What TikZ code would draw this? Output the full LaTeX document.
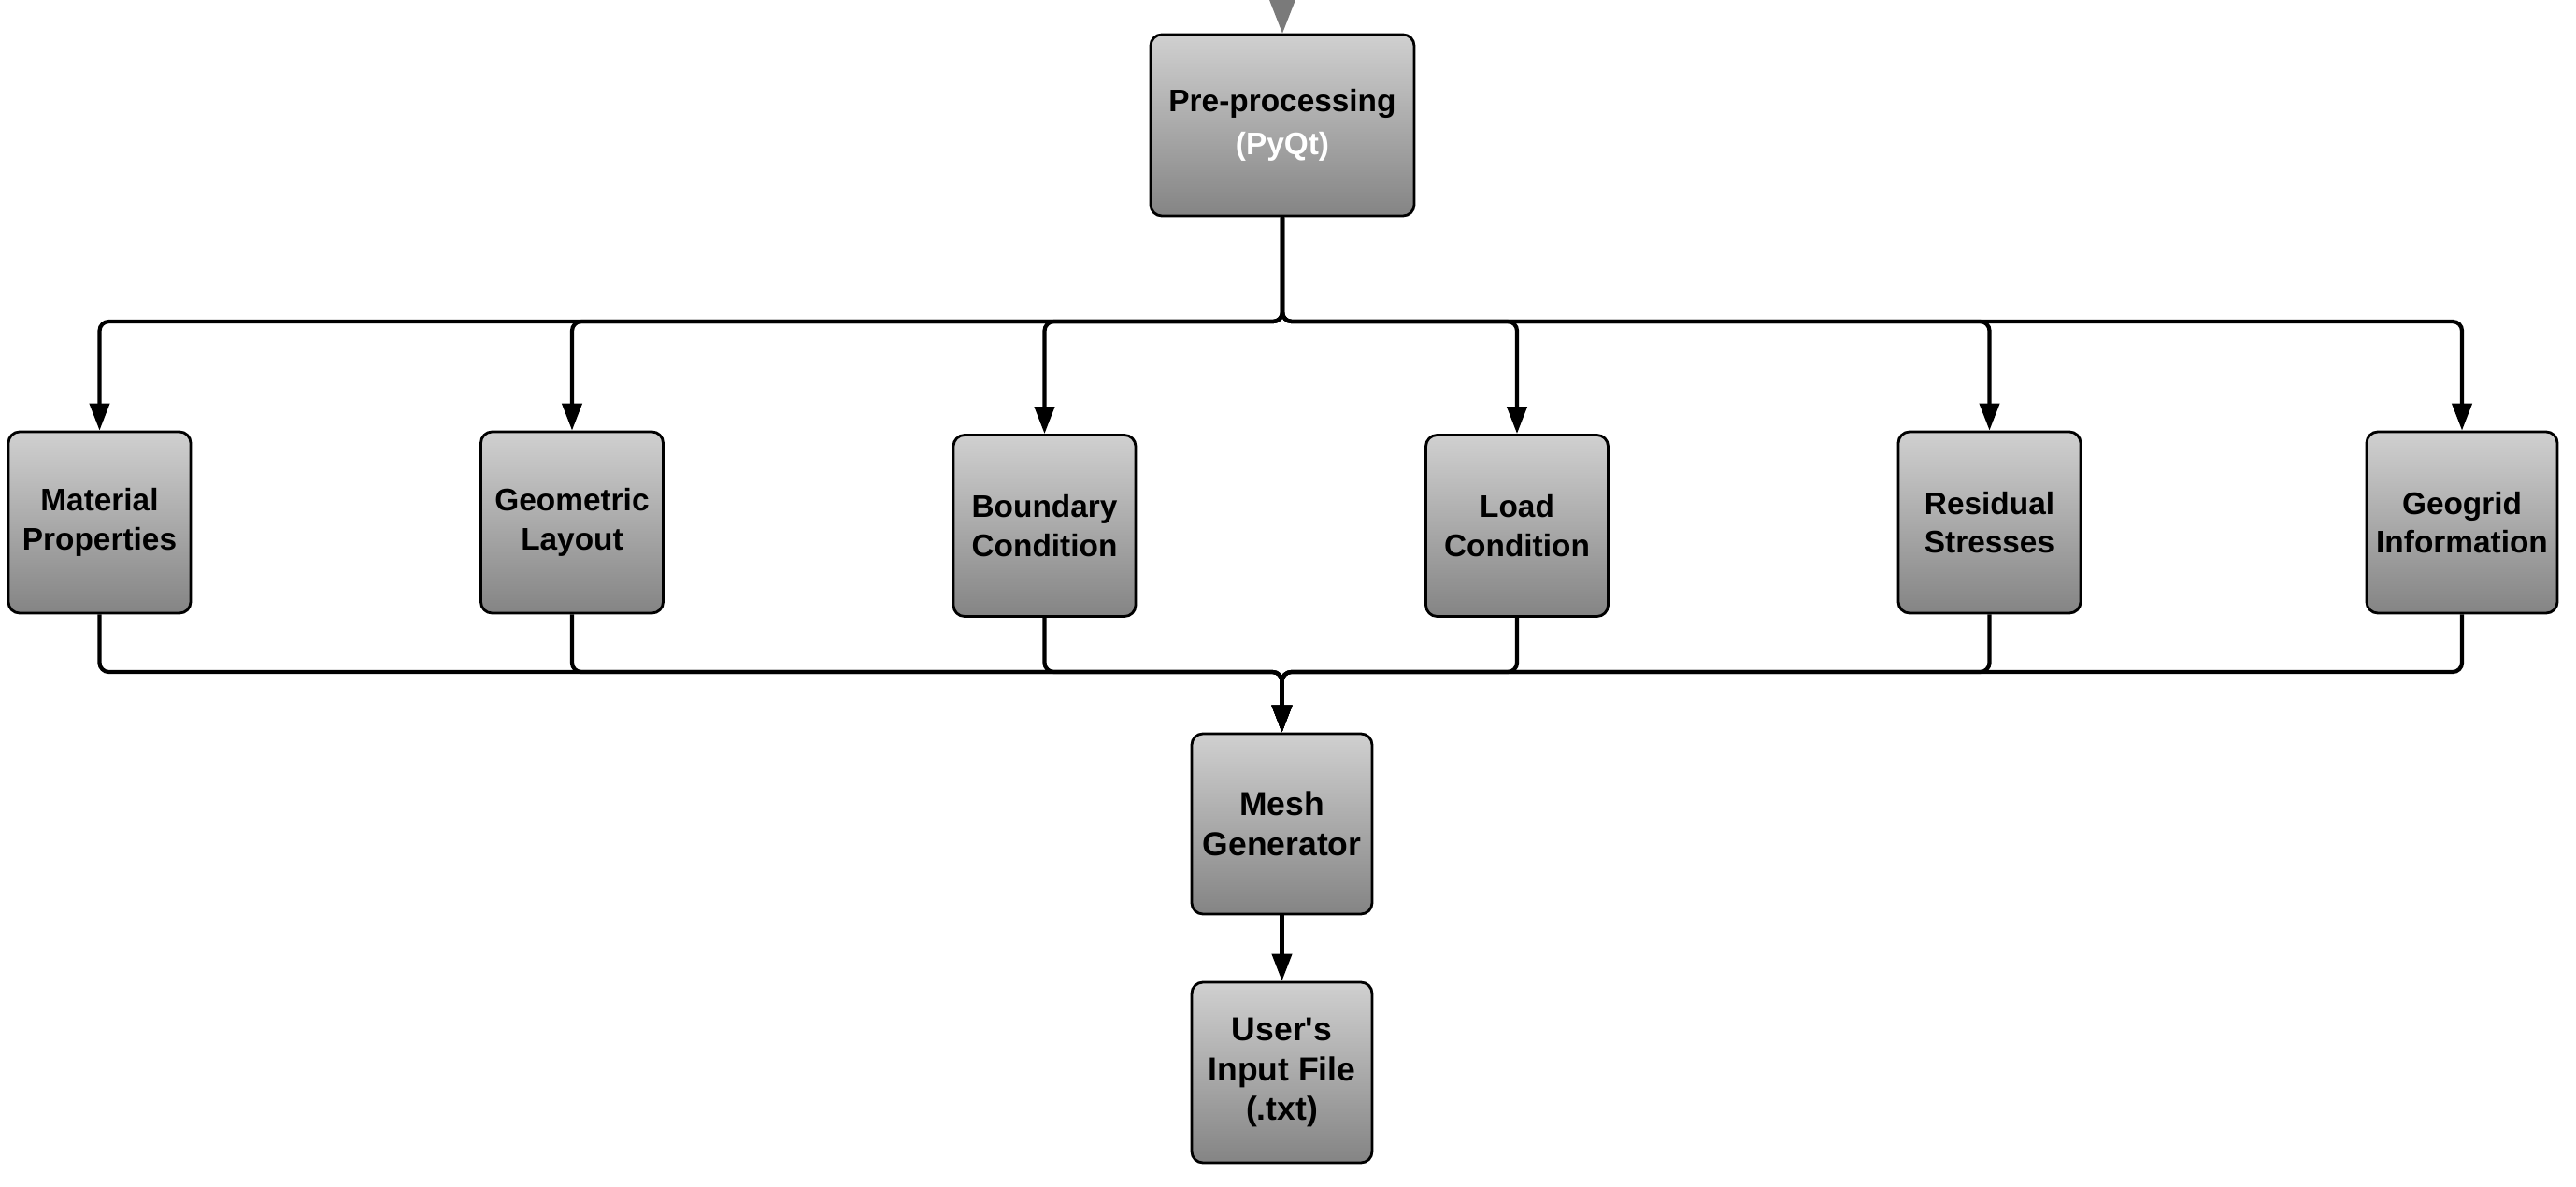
\documentclass[tikz,border=0pt]{standalone}
\usepackage{fontspec}
\setmainfont{Liberation Sans}
\usepackage{xcolor}
\usepackage{tikz}
\usetikzlibrary{arrows.meta, shapes.misc}

\definecolor{boxtop}{HTML}{D0D0D0}
\definecolor{boxbot}{HTML}{848484}
\definecolor{inarrow}{HTML}{7A7A7A}

\begin{document}
\begin{tikzpicture}[
    blk/.style={rectangle, rounded corners=1.2mm, draw=black, line width=0.8pt,
        top color=boxtop, bottom color=boxbot, inner sep=0pt, align=center,
        minimum width=1.95cm, minimum height=1.94cm,
        font=\bfseries\fontsize{9.5}{11.9}\selectfont},
    bigblk/.style={blk, font=\bfseries\fontsize{10.1}{12.2}\selectfont},
    link/.style={line width=1.2pt, rounded corners=1mm,
        -{Triangle[length=2.9mm, width=2.1mm]}}
]
    % 画布范围
    \useasboundingbox (0,0) rectangle (27.56,-12.70);

    % 前处理模块
    \node[blk, minimum width=2.82cm, font=\bfseries\fontsize{9.5}{13.2}\selectfont]
        (pre) at (13.72,-1.34) {Pre-processing\\\textcolor{white}{(PyQt)}};

    % 顶部灰色箭头(来自上方)
    \fill[inarrow] (pre.north) -- ++(-0.145,0.37) -- ++(0.29,0) -- cycle;

    % 输入参数模块
    \node[blk] (mat)  at (1.065,-5.59)  {Material\\Properties};
    \node[blk] (geo)  at (6.12,-5.59)   {Geometric\\Layout};
    \node[blk] (bnd)  at (11.175,-5.625) {Boundary\\Condition};
    \node[blk] (load) at (16.23,-5.625) {Load\\Condition};
    \node[blk] (res)  at (21.285,-5.59) {Residual\\Stresses};
    \node[blk, minimum width=2.04cm] (geog) at (26.34,-5.59) {Geogrid\\Information};

    % 网格生成与输出文件
    \node[bigblk, minimum width=1.93cm, minimum height=1.93cm]
        (mesh) at (13.715,-8.815) {Mesh\\Generator};
    \node[bigblk, minimum width=1.93cm, minimum height=1.93cm]
        (usr) at (13.715,-11.475) {User\textquotesingle s\\Input File\\(.txt)};

    % 分支点
    \coordinate (jt) at (pre.south |- 0,-3.44);
    \coordinate (jb) at (mesh.north |- 0,-7.19);

    % 前处理 -> 各模块
    \draw[link] (pre.south) -- (jt) -| (mat.north);
    \draw[link] (pre.south) -- (jt) -| (geo.north);
    \draw[link] (pre.south) -- (jt) -| (bnd.north);
    \draw[link] (pre.south) -- (jt) -| (load.north);
    \draw[link] (pre.south) -- (jt) -| (res.north);
    \draw[link] (pre.south) -- (jt) -| (geog.north);

    % 各模块 -> 网格生成
    \draw[link] (mat.south)  |- (jb) -- (mesh.north);
    \draw[link] (geo.south)  |- (jb) -- (mesh.north);
    \draw[link] (bnd.south)  |- (jb) -- (mesh.north);
    \draw[link] (load.south) |- (jb) -- (mesh.north);
    \draw[link] (res.south)  |- (jb) -- (mesh.north);
    \draw[link] (geog.south) |- (jb) -- (mesh.north);

    % 网格生成 -> 输入文件
    \draw[link] (mesh.south) -- (usr.north);
\end{tikzpicture}
\end{document}
